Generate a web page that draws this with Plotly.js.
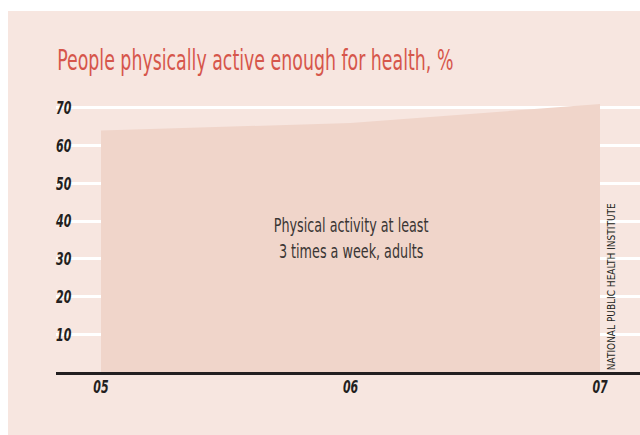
<!DOCTYPE html>
<html>
<head>
<meta charset="utf-8">
<script src="https://cdn.plot.ly/plotly-3.0.1.min.js"></script>
<style>
  html, body { margin: 0; padding: 0; background: #ffffff; }
  #chart { position: absolute; left: 8px; top: 11px; width: 632px; height: 424px; }
  /* condensed look for the type */
  #chart .gtitle { transform-box: fill-box; transform-origin: 0 50%; transform: scaleX(0.69); }
  #chart g.annotation[data-index="0"] text { transform-box: fill-box; transform-origin: 50% 50%; transform: scaleX(0.71); }
  #chart g.ytick { transform-box: fill-box; transform-origin: 0 50%; transform: scaleX(0.68); }
  #chart g.xtick { transform-box: fill-box; transform-origin: 50% 50%; transform: scaleX(0.68); }
</style>
</head>
<body>
<div id="chart"></div>
<script>
// Share of people physically active enough for health, %
const years = [2005, 2006, 2007];
const yearLabels = ['05', '06', '07'];
const activeShare = [64, 66, 71];
const yTicks = [10, 20, 30, 40, 50, 60, 70];

const seriesLabel = 'Physical activity at least<br>3 times a week, adults';
const titleText = 'People physically active enough for health, %';
const sourceText = 'NATIONAL PUBLIC HEALTH INSTITUTE';

const narrow = 'Liberation Sans Narrow, DejaVu Sans Condensed, sans-serif';
const bg = '#f7e6e0';
const areaColor = '#f0d5ca';

const trace = {
  type: 'scatter',
  mode: 'lines',
  x: years,
  y: activeShare,
  fill: 'tozeroy',
  fillcolor: areaColor,
  line: { width: 0, color: areaColor },
  hoverinfo: 'skip'
};

const layout = {
  width: 632,
  height: 424,
  paper_bgcolor: bg,
  plot_bgcolor: bg,
  margin: { l: 48, r: 0, t: 78, b: 63 },
  showlegend: false,
  title: {
    text: titleText,
    font: { family: narrow, size: 28, color: '#d6564b' },
    xref: 'paper', x: 0.002, xanchor: 'left',
    yref: 'container', y: 0.885, yanchor: 'middle'
  },
  xaxis: {
    range: [2004.8196, 2007.1603],
    tickvals: years,
    ticktext: yearLabels,
    showgrid: false,
    zeroline: false,
    showline: true,
    linecolor: '#231f20',
    linewidth: 3,
    ticks: '',
    ticklabelstandoff: -4,
    tickfont: { family: narrow, size: 18, color: '#231f20', style: 'italic', weight: 'bold' }
  },
  yaxis: {
    range: [0, 75],
    tickvals: yTicks,
    showgrid: true,
    gridcolor: '#ffffff',
    gridwidth: 3,
    zeroline: false,
    showline: false,
    ticks: '',
    ticklabelposition: 'inside',
    ticklabelstandoff: -3,
    tickfont: { family: narrow, size: 18, color: '#231f20', style: 'italic', weight: 'bold' }
  },
  annotations: [
    {
      text: seriesLabel,
      x: 2006, y: 35.6, xref: 'x', yref: 'y',
      showarrow: false,
      align: 'center',
      font: { family: narrow, size: 20, color: '#3a3534' }
    },
    {
      text: sourceText,
      x: 2007.046, y: 22.6, xref: 'x', yref: 'y',
      textangle: -90,
      showarrow: false,
      font: { family: narrow, size: 10, color: '#231f20' }
    }
  ]
};

Plotly.newPlot('chart', [trace], layout, { staticPlot: true, displayModeBar: false });
</script>
</body>
</html>
